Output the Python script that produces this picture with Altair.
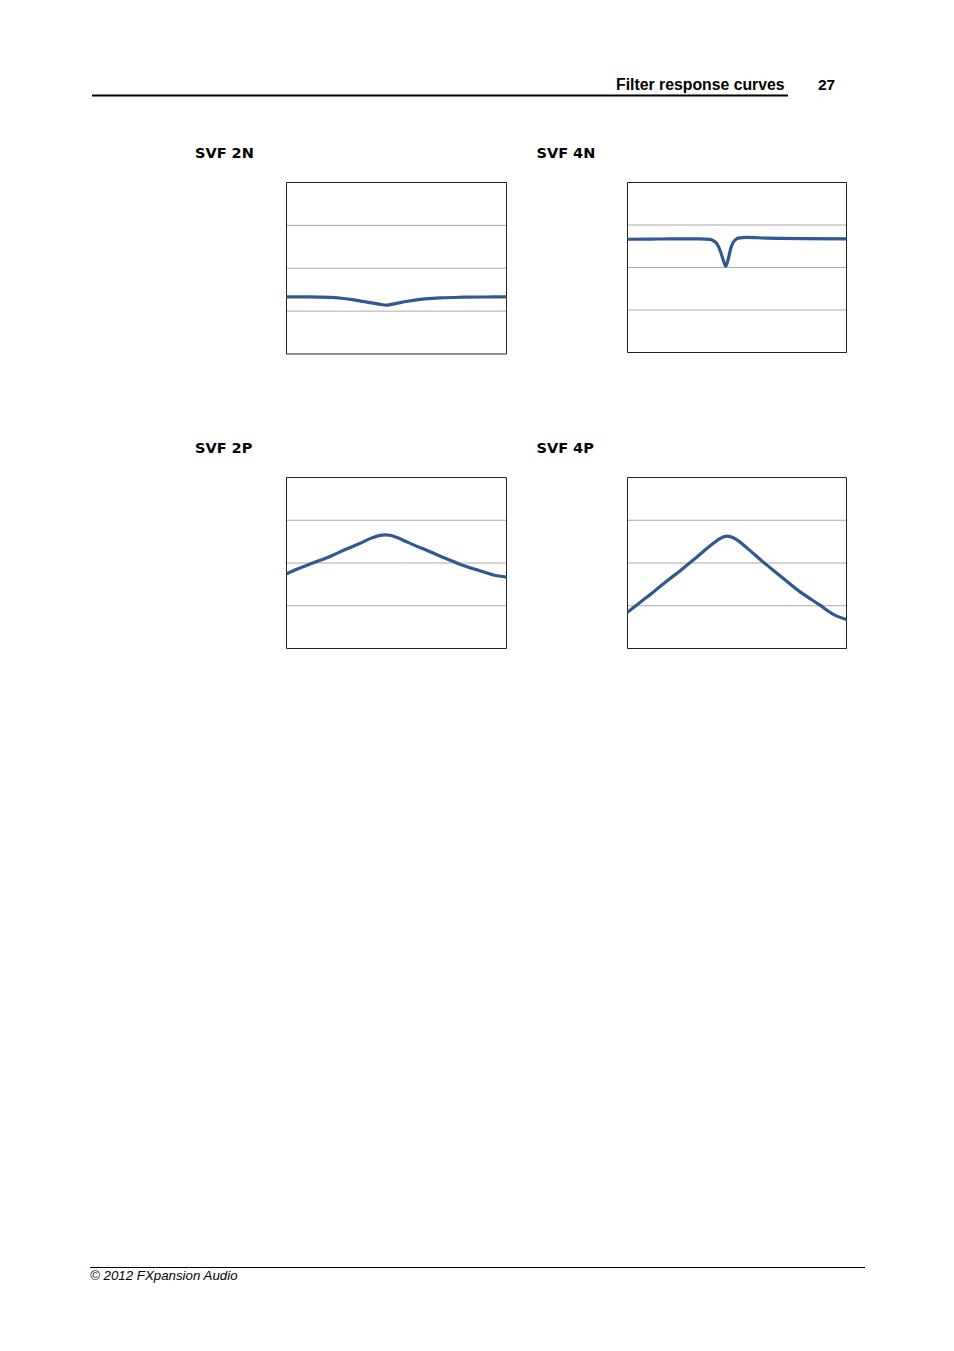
import altair as alt
import pandas as pd

# ---- texts ----
header_title = "Filter response curves"
page_number = "27"
footer_text = "© 2012 FXpansion Audio"
panel_titles = ["SVF 2N", "SVF 4N", "SVF 2P", "SVF 4P"]

# ---- value axes (normalised frequency, response in grid units) ----
x_domain = [0, 1]
y_domain = [0, 4]
grid_levels = [1, 2, 3]

# ---- series ----
svf2n_x = [0.00, 0.10, 0.20, 0.25, 0.30, 0.35, 0.40, 0.43, 0.452, 0.47, 0.50, 0.55, 0.60, 0.70, 0.80, 0.90, 1.00]
svf2n_y = [1.333, 1.333, 1.32, 1.30, 1.27, 1.225, 1.18, 1.155, 1.14, 1.15, 1.18, 1.23, 1.27, 1.31, 1.325, 1.33, 1.333]

svf4n_x = [0.00, 0.10, 0.20, 0.286, 0.332, 0.377, 0.395, 0.408, 0.426, 0.438, 0.449, 0.46, 0.471, 0.483, 0.495, 0.506, 0.544, 0.635, 0.70, 0.80, 1.00]
svf4n_y = [2.665, 2.667, 2.675, 2.675, 2.675, 2.66, 2.62, 2.56, 2.36, 2.165, 2.03, 2.20, 2.44, 2.595, 2.66, 2.69, 2.71, 2.69, 2.685, 2.68, 2.675]

svf2p_x = [0.00, 0.05, 0.12, 0.20, 0.27, 0.33, 0.39, 0.42, 0.448, 0.47, 0.50, 0.54, 0.575, 0.65, 0.727, 0.80, 0.878, 0.94, 1.00]
svf2p_y = [1.75, 1.86, 2.00, 2.16, 2.32, 2.45, 2.59, 2.64, 2.66, 2.65, 2.60, 2.51, 2.43, 2.27, 2.10, 1.95, 1.82, 1.72, 1.67]

svf4p_x = [0.00, 0.06, 0.12, 0.18, 0.241, 0.317, 0.392, 0.425, 0.453, 0.475, 0.50, 0.544, 0.62, 0.695, 0.779, 0.877, 0.94, 1.00]
svf4p_y = [0.85, 1.09, 1.33, 1.58, 1.82, 2.14, 2.46, 2.58, 2.63, 2.61, 2.54, 2.36, 2.02, 1.71, 1.36, 1.02, 0.80, 0.68]

series = [(svf2n_x, svf2n_y), (svf4n_x, svf4n_y), (svf2p_x, svf2p_y), (svf4p_x, svf4p_y)]

# ---- layout (pixel ranges of each panel, and title positions) ----
panel_x_ranges = [[278.5, 498.5], [619.5, 838.5], [278.5, 498.5], [619.5, 838.5]]
panel_y_ranges = [[346, 174.5], [344.5, 174.5], [640.5, 469.5], [640.5, 469.5]]
title_pos = [(187, 150), (528.5, 150), (187, 445), (528.5, 445)]

LINE_COLOR = "#2E5A91"
GRID_COLOR = "#ABABAB"
FRAME_COLOR = "#222222"

layers = []

# header
layers.append(
    alt.Chart(pd.DataFrame({"t": [header_title]})).mark_text(
        align="left", baseline="alphabetic", font="Liberation Sans", fontWeight="bold",
        fontSize=15.8, color="#000000"
    ).encode(text="t:N", x=alt.value(608), y=alt.value(81.5))
)
layers.append(
    alt.Chart(pd.DataFrame({"t": [page_number]})).mark_text(
        align="left", baseline="alphabetic", font="Liberation Sans", fontWeight="bold",
        fontSize=15.5, color="#000000"
    ).encode(text="t:N", x=alt.value(810), y=alt.value(81.5))
)
layers.append(
    alt.Chart(pd.DataFrame({"a": [0]})).mark_rule(color="#000000", strokeWidth=2).encode(
        x=alt.value(84), x2=alt.value(780), y=alt.value(87.5)
    )
)
# footer
layers.append(
    alt.Chart(pd.DataFrame({"a": [0]})).mark_rule(color="#000000", strokeWidth=1).encode(
        x=alt.value(82), x2=alt.value(857), y=alt.value(1259.5)
    )
)
layers.append(
    alt.Chart(pd.DataFrame({"t": [footer_text]})).mark_text(
        align="left", baseline="alphabetic", font="Liberation Sans", fontStyle="italic",
        fontSize=13.3, color="#000000"
    ).encode(text="t:N", x=alt.value(82), y=alt.value(1272))
)

for i, ((xs, ys), title) in enumerate(zip(series, panel_titles)):
    xsc = alt.Scale(domain=x_domain, range=panel_x_ranges[i], nice=False, zero=False)
    ysc = alt.Scale(domain=y_domain, range=panel_y_ranges[i], nice=False, zero=False)

    tx, ty = title_pos[i]
    layers.append(
        alt.Chart(pd.DataFrame({"t": [title]})).mark_text(
            align="left", baseline="alphabetic", font="DejaVu Sans", fontWeight="bold",
            fontSize=14.5, color="#000000"
        ).encode(text="t:N", x=alt.value(tx), y=alt.value(ty))
    )

    grid_df = pd.DataFrame({"g": grid_levels, "x0": [x_domain[0]] * len(grid_levels),
                            "x1": [x_domain[1]] * len(grid_levels)})
    layers.append(
        alt.Chart(grid_df).mark_rule(color=GRID_COLOR, strokeWidth=1).encode(
            x=alt.X("x0:Q", scale=xsc, axis=None),
            x2="x1:Q",
            y=alt.Y("g:Q", scale=ysc, axis=None),
        )
    )

    frame_df = pd.DataFrame({"x0": [x_domain[0]], "x1": [x_domain[1]],
                             "y0": [y_domain[0]], "y1": [y_domain[1]]})
    layers.append(
        alt.Chart(frame_df).mark_rect(fillOpacity=0, stroke=FRAME_COLOR, strokeWidth=1).encode(
            x=alt.X("x0:Q", scale=xsc, axis=None),
            x2="x1:Q",
            y=alt.Y("y0:Q", scale=ysc, axis=None),
            y2="y1:Q",
        )
    )

    line_df = pd.DataFrame({"f": xs, "r": ys})
    layers.append(
        alt.Chart(line_df).mark_line(color=LINE_COLOR, strokeWidth=3.2, interpolate="monotone").encode(
            x=alt.X("f:Q", scale=xsc, axis=None),
            y=alt.Y("r:Q", scale=ysc, axis=None),
            order="f:Q",
        )
    )

chart = alt.layer(*layers).resolve_scale(x="independent", y="independent").properties(
    width=938, height=1335, autosize=alt.AutoSizeParams(type="none"), padding=0
).configure_view(stroke=None)

chart.save("out.html", embed_options={"renderer": "svg", "actions": False})
